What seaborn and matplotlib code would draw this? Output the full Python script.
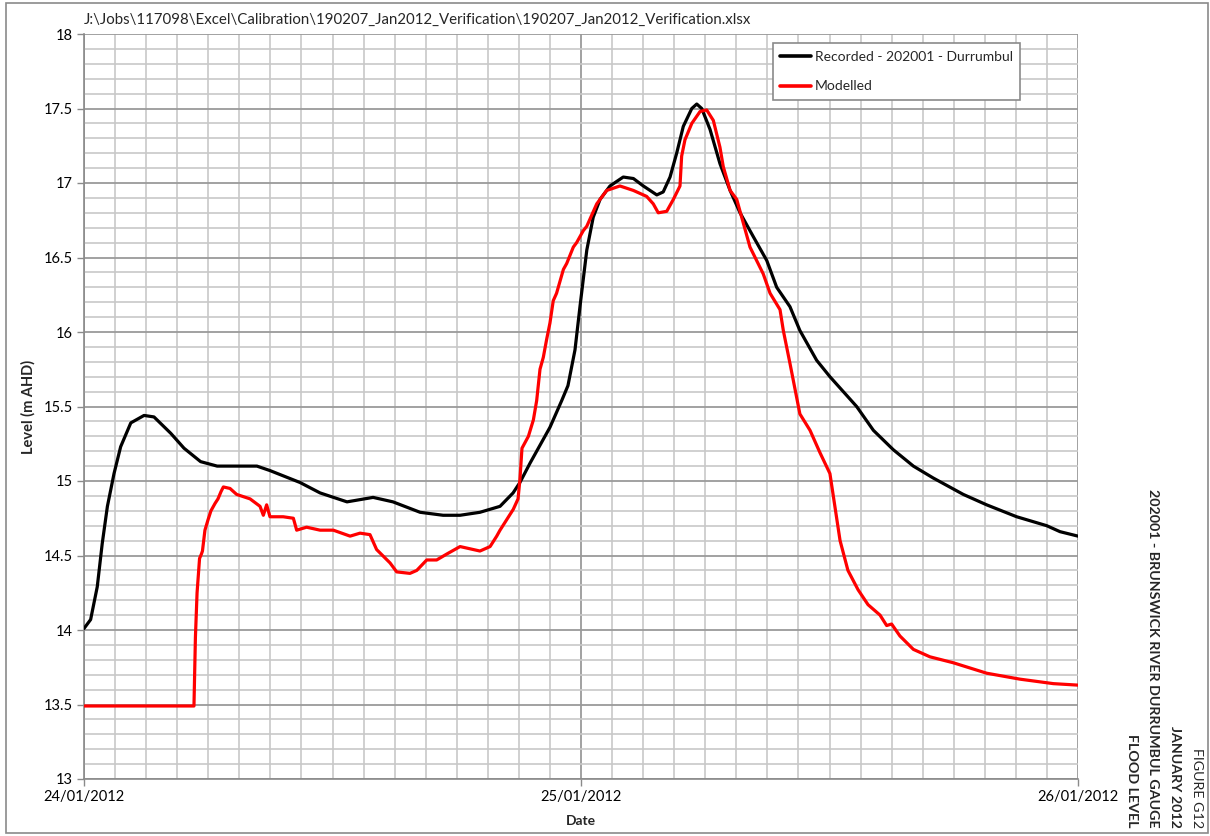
import numpy as np
import pandas as pd
import seaborn as sns
import matplotlib.pyplot as plt
import matplotlib.dates as mdates
from matplotlib.ticker import MultipleLocator, FormatStrFormatter
from matplotlib.patches import Rectangle

# hours after 24/01/2012 00:00 and water level (m AHD)
recorded_hours = [0.0, 0.32, 0.64, 0.88, 1.13, 1.45, 1.77, 2.26, 2.90, 3.38, 4.19, 4.83, 5.63, 6.43,
                  7.39, 8.35, 8.98, 10.43, 11.40, 12.70, 13.96, 14.92, 16.23, 17.34, 18.16, 19.12,
                  20.09, 20.72, 21.05, 21.54, 22.18, 22.50, 23.07, 23.37, 23.71, 23.95, 24.28, 24.59,
                  24.92, 25.40, 26.04, 26.53, 27.01, 27.66, 27.97, 28.30, 28.62, 28.94, 29.35, 29.59,
                  29.83, 30.23, 30.71, 31.20, 31.68, 32.32, 32.97, 33.45, 34.09, 34.57, 35.38, 36.02,
                  37.31, 38.12, 39.08, 40.05, 41.01, 42.46, 43.59, 45.04, 46.49, 47.13, 48.0]
recorded_level = [14.01, 14.07, 14.29, 14.58, 14.83, 15.05, 15.23, 15.39, 15.44, 15.43, 15.32, 15.22,
                  15.13, 15.10, 15.10, 15.10, 15.07, 14.99, 14.92, 14.86, 14.89, 14.86, 14.79, 14.77,
                  14.77, 14.79, 14.83, 14.92, 14.99, 15.12, 15.28, 15.36, 15.54, 15.64, 15.88, 16.17,
                  16.55, 16.77, 16.89, 16.98, 17.04, 17.03, 16.98, 16.92, 16.94, 17.04, 17.20, 17.38,
                  17.50, 17.53, 17.50, 17.36, 17.13, 16.95, 16.80, 16.64, 16.48, 16.30, 16.17, 16.01,
                  15.81, 15.70, 15.50, 15.34, 15.21, 15.10, 15.02, 14.91, 14.84, 14.76, 14.70, 14.66,
                  14.63]

modelled_hours = [0.0, 5.31, 5.38, 5.46, 5.58, 5.67, 5.72, 5.84, 5.99, 6.13, 6.33, 6.47, 6.62, 6.73,
                  7.05, 7.37, 8.02, 8.50, 8.66, 8.82, 8.98, 9.62, 10.11, 10.27, 10.75, 11.40, 12.04,
                  12.85, 13.33, 13.81, 14.13, 14.78, 15.10, 15.74, 16.07, 16.55, 17.03, 17.52, 18.16,
                  19.12, 19.61, 19.93, 20.09, 20.41, 20.73, 20.96, 21.05, 21.15, 21.46, 21.70, 21.86,
                  22.02, 22.18, 22.34, 22.50, 22.66, 22.82, 23.15, 23.31, 23.63, 23.79, 24.11, 24.28,
                  24.76, 25.24, 25.88, 26.53, 27.17, 27.49, 27.73, 28.14, 28.46, 28.78, 28.86, 29.02,
                  29.35, 29.75, 30.07, 30.39, 30.71, 30.87, 31.20, 31.52, 31.84, 32.16, 32.80, 33.13,
                  33.61, 33.77, 34.09, 34.57, 35.06, 35.54, 36.02, 36.51, 36.89, 37.38, 37.86, 38.44,
                  38.76, 39.00, 39.40, 40.05, 40.85, 41.98, 43.59, 45.20, 46.81, 48.0]
modelled_level = [13.49, 13.49, 13.95, 14.25, 14.48, 14.51, 14.53, 14.67, 14.74, 14.80, 14.85, 14.88,
                  14.93, 14.96, 14.95, 14.91, 14.88, 14.83, 14.77, 14.84, 14.76, 14.76, 14.75, 14.67,
                  14.69, 14.67, 14.67, 14.63, 14.65, 14.64, 14.54, 14.45, 14.39, 14.38, 14.40, 14.47,
                  14.47, 14.51, 14.56, 14.53, 14.56, 14.63, 14.67, 14.74, 14.81, 14.88, 15.01, 15.22,
                  15.30, 15.41, 15.54, 15.75, 15.83, 15.95, 16.06, 16.21, 16.26, 16.42, 16.46, 16.57,
                  16.60, 16.68, 16.71, 16.86, 16.95, 16.98, 16.95, 16.91, 16.86, 16.80, 16.81, 16.89,
                  16.98, 17.18, 17.29, 17.40, 17.48, 17.49, 17.42, 17.24, 17.11, 16.95, 16.89, 16.73,
                  16.57, 16.39, 16.26, 16.15, 16.01, 15.79, 15.45, 15.34, 15.19, 15.05, 14.60, 14.40,
                  14.27, 14.17, 14.10, 14.03, 14.04, 13.96, 13.87, 13.82, 13.78, 13.71, 13.67, 13.64,
                  13.63]

series_names = ['Recorded - 202001 - Durrumbul', 'Modelled']
series_colors = ['black', 'red']

file_title = r'J:\Jobs\117098\Excel\Calibration\190207_Jan2012_Verification\190207_Jan2012_Verification.xlsx'

start = pd.Timestamp('2012-01-24')
df = pd.concat([
    pd.DataFrame({'Date': start + pd.to_timedelta(recorded_hours, unit='h'),
                  'Level': recorded_level, 'Series': series_names[0]}),
    pd.DataFrame({'Date': start + pd.to_timedelta(modelled_hours, unit='h'),
                  'Level': modelled_level, 'Series': series_names[1]}),
])

sns.set_theme(style='white')
plt.rcParams['font.family'] = ['Lato', 'DejaVu Sans']

fig = plt.figure(figsize=(12.1, 8.36), dpi=100)
ax = fig.add_axes([84 / 1210, 1 - 779 / 836, 994 / 1210, 745 / 836])

sns.lineplot(data=df, x='Date', y='Level', hue='Series', palette=series_colors,
             linewidth=2.3, ax=ax, sort=False, zorder=3)

ax.set_xlim(start, start + pd.Timedelta(days=2))
ax.set_ylim(13, 18)

ax.xaxis.set_major_locator(mdates.DayLocator())
ax.xaxis.set_major_formatter(mdates.DateFormatter('%d/%m/%Y'))
ax.xaxis.set_minor_locator(MultipleLocator(1 / 16))
ax.yaxis.set_major_locator(MultipleLocator(0.5))
ax.yaxis.set_minor_locator(MultipleLocator(0.1))
ax.yaxis.set_major_formatter(FormatStrFormatter('%g'))

ax.grid(which='minor', color='#c8c8c8', linewidth=1.2, zorder=0)
ax.grid(which='major', color='#9a9a9a', linewidth=1.3, zorder=0)
ax.set_axisbelow(True)

for side in ['top', 'right']:
    ax.spines[side].set_visible(False)
for side in ['left', 'bottom']:
    ax.spines[side].set_color('#8a8a8a')
    ax.spines[side].set_linewidth(1.2)

ax.tick_params(which='major', direction='out', length=5, width=1, color='#8a8a8a',
               labelsize=10.5, labelcolor='black', left=True, bottom=True, pad=3)
ax.tick_params(which='minor', length=0)

ax.set_xlabel('Date', fontsize=10, fontweight='bold', labelpad=8)
ax.set_ylabel('Level (m AHD)', fontsize=10.5, fontweight='bold', labelpad=6)

leg = ax.legend(loc='upper right', bbox_to_anchor=(0.946, 0.993), fontsize=10,
                frameon=True, fancybox=False, edgecolor='#8a8a8a', framealpha=1,
                handlelength=2.2, borderpad=0.55, labelspacing=1.25, handletextpad=0.25,
                borderaxespad=0.3)
leg.get_frame().set_linewidth(1.2)
for line in leg.get_lines():
    line.set_linewidth(2.6)

fig.text(84 / 1210, 1 - 20 / 836, file_title, fontsize=10.8, va='center', ha='left')

# figure label, rotated at the right edge
label_lines = [('FIGURE G12', 'normal', 1197), ('JANUARY 2012', 'bold', 1175),
               ('202001 - BRUNSWICK RIVER DURRUMBUL GAUGE', 'bold', 1153),
               ('FLOOD LEVEL', 'bold', 1132)]
for txt, weight, xpix in label_lines:
    fig.text(xpix / 1210, 1 - 828 / 836, txt, rotation=-90, fontsize=10.3, fontweight=weight,
             ha='center', va='bottom')

fig.patches.append(Rectangle((6 / 1210, 3 / 836), 1202 / 1210, 830 / 836, fill=False,
                             edgecolor='#8a8a8a', linewidth=1.2, transform=fig.transFigure))

fig.savefig('out.png', dpi=100)
